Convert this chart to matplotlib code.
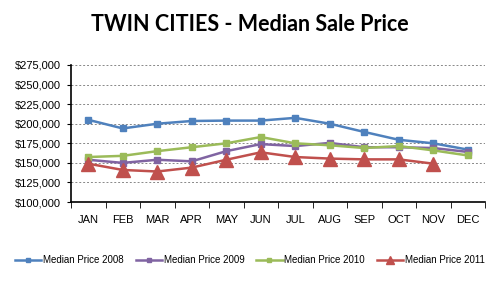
import matplotlib.pyplot as plt
import numpy as np
from matplotlib.ticker import FuncFormatter

months = ['JAN', 'FEB', 'MAR', 'APR', 'MAY', 'JUN',
          'JUL', 'AUG', 'SEP', 'OCT', 'NOV', 'DEC']

price_2008 = [205000, 194000, 200000, 203500, 204000, 204000,
              207500, 200000, 189500, 179500, 175000, 167000]
price_2009 = [154000, 150000, 154000, 152000, 165000, 174000,
              171500, 175500, 170000, 170000, 169000, 164000]
price_2010 = [157500, 159000, 165000, 170000, 175000, 183000,
              175000, 172500, 169000, 171500, 166000, 159500]
price_2011 = [149000, 141000, 139000, 144000, 154000, 163500,
              157500, 155500, 154500, 154500, 149000]

plt.rcParams['font.family'] = ['Liberation Sans', 'DejaVu Sans']

fig = plt.figure(figsize=(5, 2.85), dpi=100)
ax = fig.add_axes([0.142, 0.291, 0.828, 0.481])

x = np.arange(len(months))

ax.plot(x, price_2008, color='#4F81BD', lw=1.8, marker='s', ms=4,
        label='Median Price 2008')
ax.plot(x, price_2009, color='#8064A2', lw=1.8, marker='s', ms=4,
        label='Median Price 2009')
ax.plot(x, price_2010, color='#9BBB59', lw=1.8, marker='s', ms=4,
        label='Median Price 2010')
ax.plot(x[:len(price_2011)], price_2011, color='#C0504D', lw=1.8,
        marker='^', ms=10, label='Median Price 2011')

ax.set_ylim(100000, 275000)
ax.set_yticks(np.arange(100000, 275001, 25000))
ax.yaxis.set_major_formatter(FuncFormatter(lambda v, p: '${:,.0f}'.format(v)))
ax.set_xlim(-0.5, 11.5)
ax.set_xticks(x)
ax.set_xticklabels(months)
ax.set_xticks(np.arange(-0.5, 12, 1), minor=True)
ax.tick_params(axis='x', which='major', length=0, pad=9, labelsize=8)
ax.tick_params(axis='x', which='minor', length=4, direction='out')
ax.tick_params(axis='y', length=3, labelsize=8, pad=4)

ax.grid(axis='y', color='#888888', ls=(0, (2, 2)), lw=0.7)
ax.set_axisbelow(True)
for s in ['top', 'right']:
    ax.spines[s].set_visible(False)
ax.spines['left'].set_linewidth(1.2)
ax.spines['bottom'].set_linewidth(1.2)

fig.text(0.5, 0.915, 'TWIN CITIES - Median Sale Price', ha='center',
         va='center', fontsize=15.5, fontweight='bold', family='Lato')

leg = fig.legend(loc='center', bbox_to_anchor=(0.5, 0.087), ncol=4,
                 frameon=False, fontsize=7, handlelength=2.7,
                 columnspacing=1.2, handletextpad=0.2, markerscale=0.6)

fig.savefig('out.png', dpi=100)
